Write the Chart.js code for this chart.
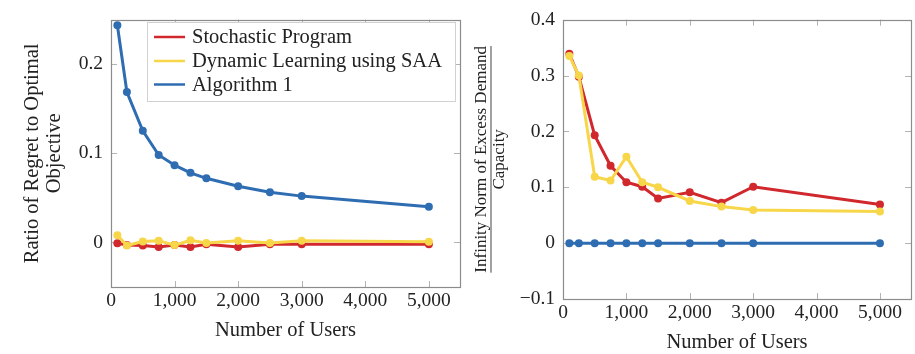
<!DOCTYPE html>
<html>
<head>
<meta charset="utf-8">
<script src="https://cdn.jsdelivr.net/npm/chart.js@4.4.1/dist/chart.umd.min.js"></script>
<style>
  html, body { margin: 0; padding: 0; background: #ffffff; }
  body { width: 915px; height: 354px; position: relative; overflow: hidden; }
  canvas { position: absolute; top: 0; }
  #regret { left: 0; }
  #demand { left: 460px; }
</style>
</head>
<body>
<canvas id="regret" width="465" height="354"></canvas>
<canvas id="demand" width="455" height="354"></canvas>
<script>
// Number of users in each experiment
const users = [100, 250, 500, 750, 1000, 1250, 1500, 2000, 2500, 3000, 5000];

// Ratio of regret to the optimal objective
const regretStochastic = [-0.001, -0.003, -0.0035, -0.005, -0.003, -0.005, -0.002, -0.005, -0.002, -0.002, -0.002];
const regretSAA        = [0.008, -0.0035, 0.001, 0.002, -0.003, 0.0025, -0.0007, 0.002, -0.0007, 0.002, 0.0007];
const regretAlg1       = [0.2437, 0.1688, 0.1254, 0.0982, 0.0867, 0.0781, 0.072, 0.0631, 0.0563, 0.052, 0.0401];

// Infinity norm of excess demand over capacity
const demandStochastic = [0.339, 0.298, 0.193, 0.1385, 0.109, 0.101, 0.080, 0.091, 0.0725, 0.101, 0.069];
const demandSAA        = [0.335, 0.300, 0.119, 0.112, 0.1546, 0.109, 0.100, 0.0755, 0.0654, 0.0595, 0.0565];
const demandAlg1       = [0, 0, 0, 0, 0, 0, 0, 0, 0, 0, 0];

// Tick values
const xTicks = [0, 1000, 2000, 3000, 4000, 5000];
const regretTicks = [0, 0.1, 0.2];
const demandTicks = [-0.1, 0, 0.1, 0.2, 0.3, 0.4];

const seriesNames = ['Stochastic Program', 'Dynamic Learning using SAA', 'Algorithm 1'];
const seriesColors = ['#d1282e', '#f8d64a', '#2f6db3'];

const FONT = '"Liberation Serif", "Times New Roman", serif';
const TEXT = '#222222';

function makeDatasets(seriesList) {
  // red beneath yellow, blue on top
  const orders = [2, 1, 0];
  return seriesList.map((vals, i) => ({
    label: seriesNames[i],
    data: users.map((u, k) => ({ x: u, y: vals[k] })),
    borderColor: seriesColors[i],
    backgroundColor: seriesColors[i],
    pointBackgroundColor: seriesColors[i],
    pointBorderColor: seriesColors[i],
    borderWidth: 3,
    pointRadius: 4,
    pointBorderWidth: 0,
    tension: 0,
    order: orders[i]
  }));
}

function fmtY(v) {
  if (Math.abs(v) < 1e-9) return '0';
  return (v < 0 ? '\u2212' : '') + Math.abs(v).toFixed(1);
}

// Box around the plot with inward ticks on every side
const framePlugin = {
  id: 'frame',
  beforeDatasetsDraw(chart) {
    const { ctx, chartArea: a, scales } = chart;
    const yTicks = chart.options.plugins.frame.yTicks;
    ctx.save();
    ctx.strokeStyle = '#b3b3b3';
    ctx.lineWidth = 1;
    const len = 6;
    ctx.beginPath();
    xTicks.forEach(v => {
      const px = Math.round(scales.x.getPixelForValue(v)) + 0.5;
      if (px <= a.left + 1 || px >= a.right - 1) return;
      ctx.moveTo(px, a.top); ctx.lineTo(px, a.top + len);
      ctx.moveTo(px, a.bottom); ctx.lineTo(px, a.bottom - len);
    });
    yTicks.forEach(v => {
      const py = Math.round(scales.y.getPixelForValue(v)) + 0.5;
      if (py <= a.top + 1 || py >= a.bottom - 1) return;
      ctx.moveTo(a.left, py); ctx.lineTo(a.left + len, py);
      ctx.moveTo(a.right, py); ctx.lineTo(a.right - len, py);
    });
    ctx.stroke();
    ctx.strokeStyle = '#8c8c8c';
    ctx.lineWidth = 1.2;
    ctx.strokeRect(Math.round(a.left) + 0.5, Math.round(a.top) + 0.5,
                   Math.round(a.right - a.left), Math.round(a.bottom - a.top));
    ctx.restore();
  }
};

// Axis captions
const captionPlugin = {
  id: 'caption',
  afterDraw(chart) {
    const o = chart.options.plugins.caption;
    const { ctx, chartArea: a } = chart;
    ctx.save();
    ctx.fillStyle = TEXT;
    ctx.textAlign = 'center';
    ctx.textBaseline = 'middle';
    ctx.font = '20.5px ' + FONT;
    ctx.fillText('Number of Users', (a.left + a.right) / 2, o.xTitleY);
    const cy = (a.top + a.bottom) / 2;
    if (o.kind === 'regret') {
      ctx.translate(0, cy);
      ctx.rotate(-Math.PI / 2);
      ctx.fillText('Ratio of Regret to Optimal', 0, 33);
      ctx.fillText('Objective', 0, 55);
    } else {
      ctx.font = '17px ' + FONT;
      const num = 'Infinity Norm of Excess Demand';
      const w = ctx.measureText(num).width;
      ctx.translate(0, cy);
      ctx.rotate(-Math.PI / 2);
      ctx.fillText(num, 0, 22);
      ctx.fillText('Capacity', 0, 39.5);
      ctx.fillStyle = '#444';
      ctx.fillRect(-w / 2, 30.5, w, 1);
    }
    ctx.restore();
  }
};

// Legend box inside the plot
const legendPlugin = {
  id: 'boxLegend',
  afterDatasetsDraw(chart) {
    const o = chart.options.plugins.boxLegend;
    if (!o || !o.show) return;
    const ctx = chart.ctx;
    ctx.save();
    ctx.fillStyle = '#ffffff';
    ctx.fillRect(147, 22, 308, 79);
    ctx.strokeStyle = '#d2d2d2';
    ctx.lineWidth = 1;
    ctx.strokeRect(147.5, 22.5, 308, 79);
    const rows = [37, 61, 84.5];
    ctx.font = '20.5px ' + FONT;
    ctx.textBaseline = 'middle';
    ctx.textAlign = 'left';
    chart.data.datasets.forEach((ds, i) => {
      ctx.strokeStyle = ds.borderColor;
      ctx.lineWidth = 2.5;
      ctx.beginPath();
      ctx.moveTo(154, rows[i]);
      ctx.lineTo(185, rows[i]);
      ctx.stroke();
      ctx.fillStyle = TEXT;
      ctx.fillText(ds.label, 192, rows[i] + 1);
    });
    ctx.restore();
  }
};

function buildChart(id, datasets, cfg) {
  return new Chart(document.getElementById(id), {
    type: 'line',
    data: { datasets },
    options: {
      responsive: false,
      animation: false,
      events: [],
      layout: { padding: cfg.padding },
      scales: {
        x: {
          type: 'linear',
          min: 0,
          max: 5490,
          afterBuildTicks: s => { s.ticks = xTicks.map(v => ({ value: v })); },
          afterFit: s => { s.height = cfg.xHeight; },
          grid: { display: false, drawTicks: false },
          border: { display: false },
          ticks: {
            autoSkip: false, maxRotation: 0, padding: 2, color: TEXT,
            font: { family: FONT, size: 19.5 },
            callback: v => Number(v).toLocaleString('en-US')
          }
        },
        y: {
          type: 'linear',
          min: cfg.yMin,
          max: cfg.yMax,
          afterBuildTicks: s => { s.ticks = cfg.yTicks.map(v => ({ value: v })); },
          afterFit: s => { s.width = cfg.yWidth; },
          grid: { display: false, drawTicks: false },
          border: { display: false },
          ticks: {
            autoSkip: false, padding: 8, color: TEXT,
            font: { family: FONT, size: 19.5 },
            callback: v => fmtY(v)
          }
        }
      },
      plugins: {
        legend: { display: false },
        tooltip: { enabled: false },
        frame: { yTicks: cfg.yTicks },
        caption: { kind: cfg.kind, xTitleY: cfg.xTitleY },
        boxLegend: { show: cfg.legend }
      }
    },
    plugins: [framePlugin, legendPlugin, captionPlugin]
  });
}

buildChart('regret', makeDatasets([regretStochastic, regretSAA, regretAlg1]), {
  kind: 'regret',
  padding: { left: 0, right: 5, top: 7, bottom: 0 },
  xHeight: 67, yWidth: 111,
  yMin: -0.05, yMax: 0.25, yTicks: regretTicks,
  xTitleY: 331, legend: true
});

buildChart('demand', makeDatasets([demandStochastic, demandSAA, demandAlg1]), {
  kind: 'demand',
  padding: { left: 0, right: 2, top: 19, bottom: 0 },
  xHeight: 55, yWidth: 103,
  yMin: -0.1, yMax: 0.4, yTicks: demandTicks,
  xTitleY: 343, legend: false
});
</script>
</body>
</html>
